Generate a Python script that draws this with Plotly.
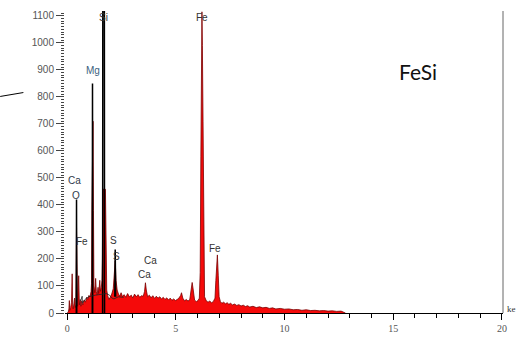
import plotly.graph_objects as go

# EDS spectrum of the FeSi sample: energy (keV) vs counts
energy_kev = [
    0.00, 0.05, 0.08, 0.10, 0.12, 0.16, 0.20, 0.23, 0.25, 0.28, 0.31, 0.34, 0.37, 0.40,
    0.43, 0.45, 0.48, 0.53, 0.56, 0.60, 0.63, 0.67, 0.72, 0.78, 0.84, 0.90, 0.95, 1.00,
    1.05, 1.10, 1.12, 1.14, 1.16, 1.19, 1.21, 1.23, 1.27, 1.31, 1.34, 1.38, 1.42, 1.45,
    1.50, 1.53, 1.57, 1.60, 1.62, 1.64, 1.76, 1.78, 1.82, 1.86, 1.92, 1.98, 2.05, 2.12,
    2.17, 2.21, 2.25, 2.30, 2.36, 2.42, 2.48, 2.55, 2.62, 2.70, 2.78, 2.86, 2.95, 3.02,
    3.10, 3.18, 3.26, 3.34, 3.42, 3.50, 3.56, 3.60, 3.64, 3.70, 3.78, 3.86, 3.94, 4.02,
    4.10, 4.18, 4.26, 4.34, 4.42, 4.50, 4.58, 4.66, 4.74, 4.82, 4.90, 4.98, 5.06, 5.14,
    5.22, 5.26, 5.32, 5.40, 5.48, 5.56, 5.64, 5.70, 5.75, 5.80, 5.86, 5.94, 6.02, 6.08,
    6.12, 6.15, 6.18, 6.20, 6.22, 6.25, 6.28, 6.32, 6.40, 6.48, 6.56, 6.64, 6.72, 6.80,
    6.84, 6.88, 6.91, 6.95, 6.99, 7.05, 7.12, 7.20, 7.28, 7.36, 7.44, 7.52, 7.60, 7.70,
    7.80, 7.90, 8.00, 8.10, 8.20, 8.30, 8.40, 8.55, 8.70, 8.85, 9.00, 9.15, 9.30, 9.45,
    9.60, 9.80, 10.00, 10.20, 10.40, 10.60, 10.80, 11.00, 11.20, 11.40, 11.60, 11.80,
    12.00, 12.20, 12.40, 12.60, 12.80,
]
counts = [
    0, 3, 15, 46, 10, 20, 40, 145, 30, 15, 35, 55, 20, 30,
    317, 40, 25, 138, 30, 50, 25, 45, 30, 48, 40, 58, 50, 65,
    60, 80, 110, 400, 710, 710, 380, 100, 75, 128, 80, 68, 95, 72,
    121, 80, 95, 120, 200, 458, 458, 200, 85, 65, 50, 58, 70, 90,
    150, 193, 120, 85, 70, 62, 75, 60, 68, 58, 72, 60, 66, 55,
    70, 60, 68, 58, 64, 62, 80, 112, 85, 60, 66, 56, 64, 54,
    62, 55, 60, 52, 58, 50, 56, 48, 55, 47, 52, 46, 50, 55,
    65, 75, 55, 45, 50, 44, 50, 80, 113, 85, 48, 42, 46, 55,
    150, 578, 990, 1115, 990, 578, 200, 60, 45, 40, 44, 38, 42, 55,
    120, 190, 215, 140, 60, 42, 36, 40, 34, 38, 32, 36, 30, 33,
    28, 31, 26, 29, 24, 27, 22, 25, 20, 23, 19, 21, 17, 19,
    15, 17, 14, 15, 12, 13, 10, 12, 9, 10, 8, 9,
    7, 8, 6, 7, 0,
]

# Overlaid reference spectrum (black): strong lines
line_energy_kev = [
    0.42, 0.43, 0.44, None,
    1.155, 1.165, 1.175, None,
    1.63, 1.64, 1.71, 1.72, None,
    2.19, 2.21, 2.23,
]
line_counts = [
    0, 420, 0, None,
    0, 850, 0, None,
    0, 1300, 1300, 0, None,
    60, 235, 60,
]

# Fitted background under the light-element lines
bg_energy_kev = [0.62, 0.69, 0.70, 0.80, 0.88, 0.95, 1.05, 1.30, 1.55, 1.80, 1.95, 2.05, 2.15, 2.35, 2.60]
bg_counts = [45, 62, 38, 48, 55, 58, 62, 66, 70, 72, 66, 56, 52, 60, 58]

# Element line labels: (text, energy keV, counts)
label_text = ["Si", "Fe", "Mg", "Ca", "O", "Fe", "S", "S", "Ca", "Ca", "Fe"]
label_x = [1.69, 6.18, 1.19, 0.32, 0.41, 0.69, 2.15, 2.29, 3.84, 3.57, 6.82]
label_y = [1093, 1093, 898, 490, 436, 266, 270, 209, 195, 142, 238]
label_color = ["#333333", "#333333", "#3c5f80", "#2f3b4a", "#2f3b4a", "#333333",
               "#333333", "#333333", "#333333", "#333333", "#333333"]

fig = go.Figure()

fig.add_trace(go.Scatter(
    x=energy_kev, y=counts, mode="lines",
    line=dict(color="#7a0000", width=0.8),
    fill="tozeroy", fillcolor="#f50a0a",
    hoverinfo="skip", showlegend=False,
))

fig.add_trace(go.Scatter(
    x=line_energy_kev, y=line_counts, mode="lines",
    line=dict(color="black", width=1.5),
    connectgaps=False, hoverinfo="skip", showlegend=False,
))

fig.add_trace(go.Scatter(
    x=bg_energy_kev, y=bg_counts, mode="lines",
    line=dict(color="#222222", width=0.8),
    hoverinfo="skip", showlegend=False,
))

annotations = []
for t, xv, yv, c in zip(label_text, label_x, label_y, label_color):
    annotations.append(dict(
        x=xv, y=yv, xref="x", yref="y", text=t, showarrow=False,
        font=dict(family="Liberation Sans", size=10, color=c),
        xanchor="center", yanchor="middle",
    ))

annotations.append(dict(
    x=0.807, y=0.80, xref="paper", yref="paper", text="FeSi", showarrow=False,
    font=dict(family="Lato", size=21, color="#111111"),
    xanchor="center", yanchor="middle",
))
annotations.append(dict(
    x=1.005, y=0.012, xref="paper", yref="paper", text="ke", showarrow=False,
    font=dict(family="Liberation Serif", size=9, color="#333333"),
    xanchor="left", yanchor="middle",
))

fig.update_layout(
    width=518, height=345,
    margin=dict(l=65, r=13, t=11, b=19),
    paper_bgcolor="white", plot_bgcolor="white",
    annotations=annotations,
    shapes=[
        # right frame line
        dict(type="line", xref="paper", yref="paper", x0=1, x1=1, y0=0, y1=1,
             line=dict(color="#666666", width=1)),
        # pointer line at the left edge
        dict(type="line", xref="paper", yref="paper", x0=-0.148, y0=0.717,
             x1=-0.095, y1=0.730, line=dict(color="black", width=1)),
    ],
    xaxis=dict(
        range=[-0.1, 20.05], tick0=0, dtick=5,
        ticks="outside", ticklen=6, tickcolor="black",
        showline=True, linecolor="black", linewidth=1,
        showgrid=False, zeroline=False,
        minor=dict(dtick=1, ticks="outside", ticklen=4, tickcolor="black"),
        tickfont=dict(family="Liberation Serif", size=10, color="#555555"),
    ),
    yaxis=dict(
        range=[0, 1118], tick0=0, dtick=100,
        ticks="outside", ticklen=8, tickcolor="#444444",
        showline=False, showgrid=False, zeroline=False,
        minor=dict(dtick=10, ticks="outside", ticklen=3, tickcolor="#444444"),
        tickfont=dict(family="Liberation Sans", size=10, color="#555555"),
    ),
)

fig.write_html("out.html")
